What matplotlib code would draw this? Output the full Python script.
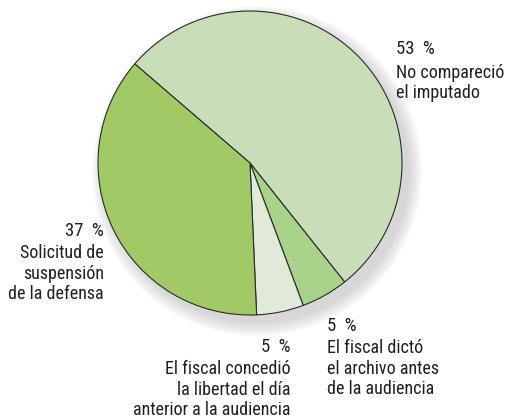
import matplotlib
matplotlib.use("Agg")
import matplotlib.pyplot as plt
from matplotlib.patches import Circle

# Data
pcts = [53, 5, 5, 37]
labels = ["No compareció\nel imputado",
          "El fiscal dictó\nel archivo antes\nde la audiencia",
          "El fiscal concedió\nla libertad el día\nanterior a la audiencia",
          "Solicitud de\nsuspensión\nde la defensa"]
values = [53, 5, 5, 37]
colors = ["#c9ddb9", "#a9d28b", "#e1ead9", "#a1c965"]

W, H = 506, 418
fig = plt.figure(figsize=(W / 100, H / 100), dpi=100)
ax = fig.add_axes([0, 0, 1, 1])

cx, cy, r = 250, H - 163, 152

# soft shadow
for i in range(12):
    ax.add_patch(Circle((cx + 7, cy - 8), r + i * 1.2, color="#707070",
                        alpha=0.022, lw=0, zorder=0))

ax.pie(values, colors=colors, startangle=139.3, counterclock=False,
       center=(cx, cy), radius=r, frame=True,
       wedgeprops=dict(edgecolor="#2a2a2a", linewidth=0.8))
ax.set_xlim(0, W)
ax.set_ylim(0, H)
ax.set_aspect("equal")
ax.axis("off")

fam = ["Roboto Condensed", "DejaVu Sans"]
fs = 13
col = "#231f20"
step = 21

def lab(x, base, pct, txt, ha, gap=21):
    ax.text(x, H - base, f"{pct}\u2002%", ha=ha, va="baseline", fontsize=fs + 0.5,
            family=fam, color=col)
    n = txt.count("\n")
    ax.text(x, H - (base + gap + n * step), txt, ha=ha, va="baseline",
            fontsize=fs, family=fam, linespacing=1.17, color=col)

lab(396, 54, pcts[0], labels[0], "left", gap=23)
lab(327, 331, pcts[1], labels[1], "left")
lab(291, 352, pcts[2], labels[2], "right")
lab(104, 236, pcts[3], labels[3], "right")

fig.savefig("out.png", dpi=100)
